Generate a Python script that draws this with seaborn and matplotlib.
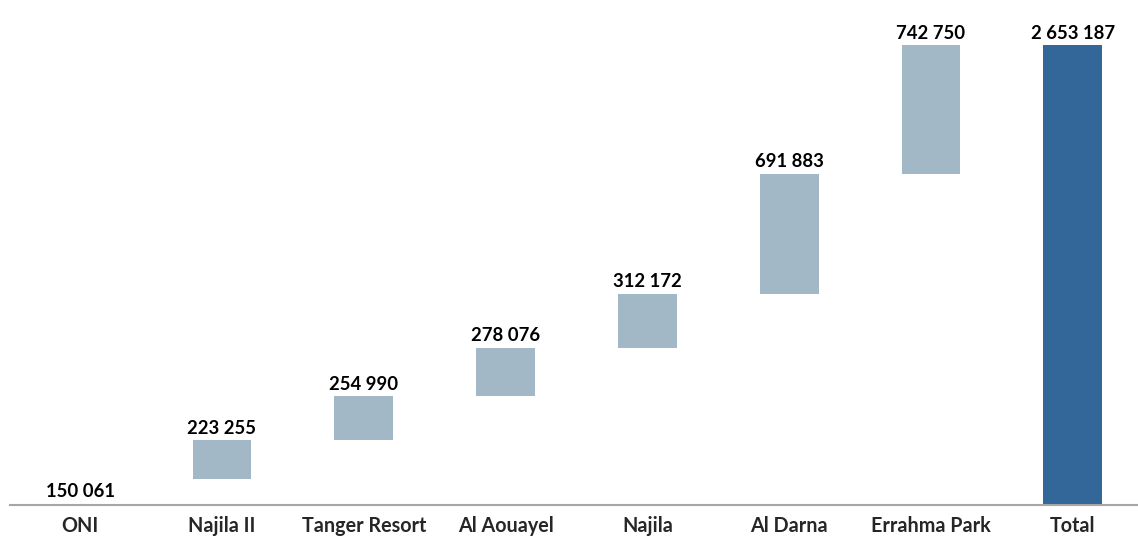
import numpy as np
import seaborn as sns
import matplotlib.pyplot as plt

categories = ["ONI", "Najila II", "Tanger Resort", "Al Aouayel", "Najila",
              "Al Darna", "Errahma Park", "Total"]
increments = [150061, 223255, 254990, 278076, 312172, 691883, 742750]
total = sum(increments)

values = increments + [total]
bottoms = list(np.concatenate([[0], np.cumsum(increments)[:-1]])) + [0]
labels = ["{:,}".format(v).replace(",", " ") for v in values]

sns.set_theme(style="white")
plt.rcParams["font.family"] = ["Lato", "DejaVu Sans"]

fig = plt.figure(figsize=(11.38, 5.41), dpi=100)
ax = fig.add_axes([10 / 1138, 36 / 541, 1 - 10 / 1138, 1 - 36 / 541])

sns.barplot(x=categories, y=values, bottom=bottoms, width=0.415,
            color="#a3b8c6", saturation=1, ax=ax)

for i, p in enumerate(ax.patches):
    if i == 0:
        p.set_alpha(0)  # first bar is not drawn in the original
    elif i == len(categories) - 1:
        p.set_facecolor("#336699")
    p.set_edgecolor("none")

for i, (b, v, lab) in enumerate(zip(bottoms, values, labels)):
    if i == 0:
        ax.text(i, b + v / 2, lab, ha="center", va="center",
                fontsize=13.3, fontweight="bold", color="black")
    else:
        ax.annotate(lab, (i, b + v), xytext=(0, 2.5), textcoords="offset points",
                    ha="center", va="bottom", fontsize=13.3, fontweight="bold",
                    color="black")

ax.set_ylim(0, total * 505 / 460)
ax.set_xlim(-0.495, 7.46)
ax.set_yticks([])
ax.set_ylabel("")
ax.tick_params(axis="x", length=0, pad=8, labelsize=14.2)
for t in ax.get_xticklabels():
    t.set_fontweight("bold")

sns.despine(ax=ax, left=True)
ax.spines["bottom"].set_color("#a6a6a6")
ax.spines["bottom"].set_linewidth(1.5)

fig.savefig("out.png", dpi=100)
